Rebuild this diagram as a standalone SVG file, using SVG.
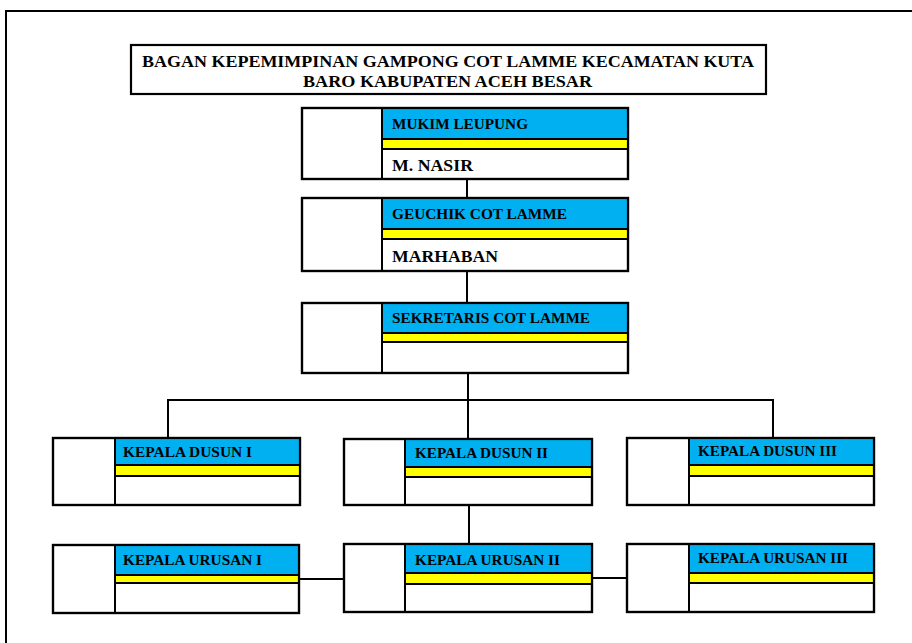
<svg xmlns="http://www.w3.org/2000/svg" width="912" height="643" viewBox="0 0 912 643">
<style>
.box{fill:#fff;stroke:#000;stroke-width:2.2}
.blue{fill:#00B0F0}
.yel{fill:#FFFF00}
.ln{stroke:#000;stroke-width:2;fill:none}
.lbl{font-family:"Liberation Serif","Times New Roman",serif;font-weight:bold;font-size:15.5px;fill:#000}
.name{font-family:"Liberation Serif","Times New Roman",serif;font-weight:bold;font-size:16.5px;fill:#000}
.title{font-family:"Liberation Serif","Times New Roman",serif;font-weight:bold;font-size:16.5px;fill:#000}
.conn{stroke:#000;stroke-width:2;fill:none}
</style>
<rect width="912" height="643" fill="#fff"/>
<path d="M6,643 V11 H912" class="ln"/>
<g id="title">
<rect x="131" y="45" width="635" height="49" class="box"/>
<text x="142" y="67" class="title" textLength="612" lengthAdjust="spacingAndGlyphs">BAGAN KEPEMIMPINAN GAMPONG COT LAMME KECAMATAN KUTA</text>
<text x="303" y="87" class="title" textLength="289" lengthAdjust="spacingAndGlyphs">BARO KABUPATEN ACEH BESAR</text>
</g>
<g id="connectors">
<path d="M467,179 V198" class="conn"/>
<path d="M467,271 V303" class="conn"/>
<path d="M468,373 V439" class="conn"/>
<path d="M168,438 V400 H773 V438" class="conn"/>
<path d="M469,505 V544" class="conn"/>
<path d="M299,579 H344" class="conn"/>
<path d="M592,578 H627" class="conn"/>
</g>
<g id="mukim">
<rect x="302" y="108" width="326" height="71" class="box"/>
<rect x="382" y="108" width="246" height="31" class="blue"/>
<rect x="382" y="139" width="246" height="10" class="yel"/>
<path d="M382,108 V179 M382,139 H628 M382,149 H628" class="ln"/>
<rect x="302" y="108" width="326" height="71" class="box" style="fill:none"/>
<text x="392" y="129" class="lbl" textLength="136" lengthAdjust="spacingAndGlyphs">MUKIM LEUPUNG</text>
<text x="392" y="171" class="name" textLength="81" lengthAdjust="spacingAndGlyphs">M. NASIR</text>
</g>
<g id="geuchik">
<rect x="302" y="198" width="326" height="73" class="box"/>
<rect x="382" y="198" width="246" height="31" class="blue"/>
<rect x="382" y="229" width="246" height="10" class="yel"/>
<path d="M382,198 V271 M382,229 H628 M382,239 H628" class="ln"/>
<rect x="302" y="198" width="326" height="73" class="box" style="fill:none"/>
<text x="392" y="219" class="lbl" textLength="175" lengthAdjust="spacingAndGlyphs">GEUCHIK COT LAMME</text>
<text x="392" y="262" class="name" textLength="106" lengthAdjust="spacingAndGlyphs">MARHABAN</text>
</g>
<g id="sekretaris">
<rect x="302" y="303" width="326" height="70" class="box"/>
<rect x="382" y="303" width="246" height="30" class="blue"/>
<rect x="382" y="333" width="246" height="9" class="yel"/>
<path d="M382,303 V373 M382,333 H628 M382,342 H628" class="ln"/>
<rect x="302" y="303" width="326" height="70" class="box" style="fill:none"/>
<text x="392" y="323" class="lbl" textLength="198" lengthAdjust="spacingAndGlyphs">SEKRETARIS COT LAMME</text>
</g>
<g id="dusun1">
<rect x="53" y="438" width="247" height="67" class="box"/>
<rect x="115" y="438" width="185" height="27" class="blue"/>
<rect x="115" y="465" width="185" height="11" class="yel"/>
<path d="M115,438 V505 M115,465 H300 M115,476 H300" class="ln"/>
<rect x="53" y="438" width="247" height="67" class="box" style="fill:none"/>
<text x="123" y="457" class="lbl" textLength="129" lengthAdjust="spacingAndGlyphs">KEPALA DUSUN I</text>
</g>
<g id="dusun2">
<rect x="344" y="439" width="248" height="66" class="box"/>
<rect x="405" y="439" width="187" height="28" class="blue"/>
<rect x="405" y="467" width="187" height="10" class="yel"/>
<path d="M405,439 V505 M405,467 H592 M405,477 H592" class="ln"/>
<rect x="344" y="439" width="248" height="66" class="box" style="fill:none"/>
<text x="415" y="458" class="lbl" textLength="133" lengthAdjust="spacingAndGlyphs">KEPALA DUSUN II</text>
</g>
<g id="dusun3">
<rect x="627" y="438" width="247" height="67" class="box"/>
<rect x="689" y="438" width="185" height="27" class="blue"/>
<rect x="689" y="465" width="185" height="11" class="yel"/>
<path d="M689,438 V505 M689,465 H874 M689,476 H874" class="ln"/>
<rect x="627" y="438" width="247" height="67" class="box" style="fill:none"/>
<text x="698" y="456" class="lbl" textLength="139" lengthAdjust="spacingAndGlyphs">KEPALA DUSUN III</text>
</g>
<g id="urusan1">
<rect x="53" y="545" width="246" height="68" class="box"/>
<rect x="115" y="545" width="184" height="30" class="blue"/>
<rect x="115" y="575" width="184" height="8" class="yel"/>
<path d="M115,545 V613 M115,575 H299 M115,583 H299" class="ln"/>
<rect x="53" y="545" width="246" height="68" class="box" style="fill:none"/>
<text x="123" y="565" class="lbl" textLength="139" lengthAdjust="spacingAndGlyphs">KEPALA URUSAN I</text>
</g>
<g id="urusan2">
<rect x="344" y="544" width="248" height="68" class="box"/>
<rect x="405" y="544" width="187" height="29" class="blue"/>
<rect x="405" y="573" width="187" height="11" class="yel"/>
<path d="M405,544 V612 M405,573 H592 M405,584 H592" class="ln"/>
<rect x="344" y="544" width="248" height="68" class="box" style="fill:none"/>
<text x="415" y="565" class="lbl" textLength="145" lengthAdjust="spacingAndGlyphs">KEPALA URUSAN II</text>
</g>
<g id="urusan3">
<rect x="627" y="544" width="247" height="68" class="box"/>
<rect x="689" y="544" width="185" height="29" class="blue"/>
<rect x="689" y="573" width="185" height="10" class="yel"/>
<path d="M689,544 V612 M689,573 H874 M689,583 H874" class="ln"/>
<rect x="627" y="544" width="247" height="68" class="box" style="fill:none"/>
<text x="698" y="563" class="lbl" textLength="150" lengthAdjust="spacingAndGlyphs">KEPALA URUSAN III</text>
</g>
</svg>
